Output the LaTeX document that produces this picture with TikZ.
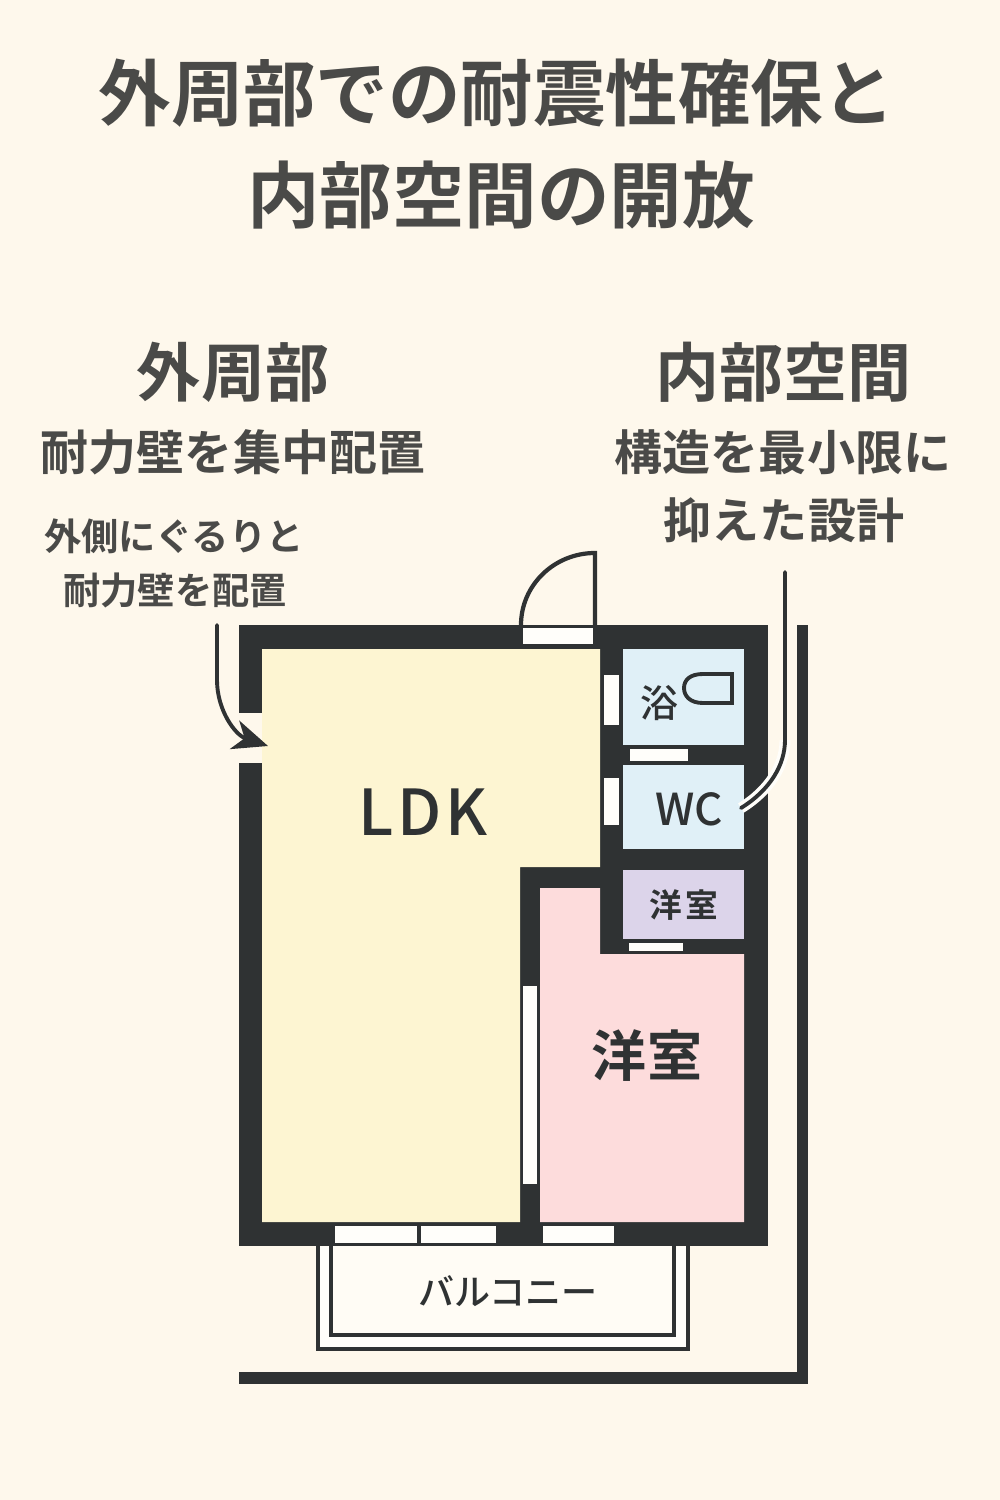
\documentclass[tikz,border=0pt]{standalone}
\usepackage{fontspec}
\setmainfont{Noto Sans CJK JP}[UprightFont=* Medium,BoldFont=* Bold]
\usetikzlibrary{arrows.meta}
\definecolor{paper}{HTML}{FEF8EC}
\definecolor{wall}{HTML}{2F3233}
\definecolor{ink}{HTML}{4A4A48}
\definecolor{ldkfill}{HTML}{FDF5D2}
\definecolor{pinkfill}{HTML}{FDDCDC}
\definecolor{wetfill}{HTML}{E0F0F7}
\definecolor{purplefill}{HTML}{DCD4EA}
\definecolor{glass}{HTML}{FFFEFA}
\definecolor{balcfill}{HTML}{FFFCF5}
\tikzset{
  heading/.style={text=ink,font=\bfseries\fontsize{20.6}{24}\selectfont},
  subhead/.style={text=ink,font=\bfseries\fontsize{18.2}{22}\selectfont},
  midtext/.style={text=ink,font=\bfseries\fontsize{13.66}{16}\selectfont},
  smalltext/.style={text=ink,font=\bfseries\fontsize{10.6}{13}\selectfont},
  room/.style={text=wall,inner sep=0pt},
  pointer/.style={draw=wall,line width=1.1pt,line cap=round}
}
\begin{document}
\begin{tikzpicture}[x=0.01cm,y=-0.01cm]
    \fill [paper] (0,0) rectangle (1000,1500);
    \useasboundingbox (0,0) rectangle (1000,1500);
    % titles
    \node [heading] (title1) at (497,93) {外周部での耐震性確保と};
    \node [heading] (title2) at (501,195) {内部空間の開放};
    \node [subhead] (outerhead) at (233,372) {外周部};
    \node [subhead] (innerhead) at (783,372) {内部空間};
    \node [midtext] (outer1) at (233,452) {耐力壁を集中配置};
    \node [midtext] (inner1) at (783,452) {構造を最小限に};
    \node [midtext] (inner2) at (784,520) {抑えた設計};
    \node [smalltext] (note1) at (174,536) {外側にぐるりと};
    \node [smalltext] (note2) at (175,590) {耐力壁を配置};
    % walls
    \fill [wall] (239,625) rectangle (768,1246);
    \fill [paper] (239,713) rectangle (262,763);
    \fill [wall] (797,625) rectangle (808,1384);
    \fill [wall] (239,1372) rectangle (808,1384);
    % rooms
    \fill [ldkfill] (262,649)--(600,649)--(600,867)--(520,867)--(520,1222)--(262,1222)--cycle;
    \fill [pinkfill] (540,888)--(600,888)--(600,954)--(744,954)--(744,1222)--(540,1222)--cycle;
    \fill [wetfill] (623,649) rectangle (744,745);
    \fill [wetfill] (623,765) rectangle (744,849);
    \fill [purplefill] (623,870) rectangle (744,939);
    % openings
    \foreach \xa/\ya/\xb/\yb in {523/628/593/644,604/675/619/725,604/778/619/825,
      630/749/688/761,629/943/683/951,523/986/537/1184,
      335/1226/417/1243,421/1226/496/1243,543/1226/614/1243}
    \fill [glass] (\xa,\ya) rectangle (\xb,\yb);
    % balcony
    \filldraw [balcfill,draw=wall,line width=0.9pt] (318,1246)--(318,1349)--(688,1349)--(688,1246);
    \fill [glass] (320,1247) rectangle (686,1347);
    \filldraw [balcfill,draw=wall,line width=0.9pt] (331,1246)--(331,1335)--(674,1335)--(674,1246);
    % door
    \draw [wall,line width=1.2pt] (521,625) arc [start angle=180,end angle=90,x radius=74,y radius=-72]--(595,625);
    % tub
    \draw [wall,line width=1.1pt] (732,674)--(732,703)--(703,703) .. controls (690,703) and (684,696) .. (684,688) .. controls (684,680) and (690,674) .. (703,674)--cycle;
    % room names
    \node [room,font=\fontsize{18}{20}\selectfont\addfontfeature{LetterSpace=6}] (ldk) at (423,812) {LDK};
    \node [room,font=\bfseries\fontsize{15.65}{18}\selectfont] (bedroom) at (647,1056) {洋室};
    \node [room,font=\bfseries\fontsize{9.3}{11}\selectfont\addfontfeature{LetterSpace=8}] (closet) at (684,905) {洋室};
    \node [room,font=\fontsize{10.8}{13}\selectfont] (bath) at (659,703) {浴};
    \node [room,font=\fontsize{12.5}{15}\selectfont] (wc) at (689,809) {WC};
    \node [room,font=\fontsize{10.25}{12}\selectfont] (balcony) at (508,1291) {バルコニー};
    % pointers
    \coordinate (arrowstart) at (217,625);
    \coordinate (arrowend) at (268,746);
    \coordinate (linestart) at (785,572);
    \coordinate (linebend) at (785,740);
    \coordinate (lineend) at (741,808);
    \draw [pointer,-{Stealth[length=10pt,width=8.5pt,inset=3pt]}] (arrowstart)--(217,680) .. controls (217,710) and (235,735) .. (arrowend);
    \draw [glass,line width=3.1pt] (linebend) .. controls (785,765) and (770,790) .. (lineend);
    \draw [pointer] (linestart)--(linebend) .. controls (785,765) and (770,790) .. (lineend);
  \end{tikzpicture}
\end{document}
